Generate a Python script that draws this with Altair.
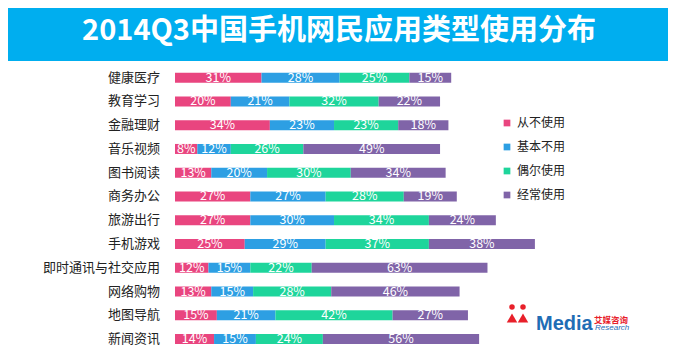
import altair as alt
import pandas as pd

categories = ["健康医疗", "教育学习", "金融理财", "音乐视频", "图书阅读", "商务办公",
              "旅游出行", "手机游戏", "即时通讯与社交应用", "网络购物", "地图导航", "新闻资讯"]
series = ["从不使用", "基本不用", "偶尔使用", "经常使用"]
never = [31, 20, 34, 8, 13, 27, 27, 25, 12, 13, 15, 14]
rarely = [28, 21, 23, 12, 20, 27, 30, 29, 15, 15, 21, 15]
sometimes = [25, 32, 23, 26, 30, 28, 34, 37, 22, 28, 42, 24]
often = [15, 22, 18, 49, 34, 19, 24, 38, 63, 46, 27, 56]
colors = ["#E9457F", "#2D9FE3", "#1ED59B", "#8064A8"]
title_text = "2014Q3中国手机网民应用类型使用分布"

rows = []
for i, c in enumerate(categories):
    for j, (s, vals) in enumerate(zip(series, [never, rarely, sometimes, often])):
        rows.append({"cat": c, "series": s, "order": j, "value": vals[i]})
df = pd.DataFrame(rows)

FONT = "Noto Sans CJK SC"
W, H = 660, 340

xscale = alt.Scale(domain=[0, 140], range=[167, 167 + 2.79 * 140])
yscale = alt.Scale(domain=categories, range=[57.8, 342.9])

base = alt.Chart(df).transform_stack(
    stack="value", groupby=["cat"], as_=["x0", "x1"],
    sort=[alt.SortField("order", order="ascending")]
).transform_calculate(mid="(datum.x0 + datum.x1) / 2")

bars = base.mark_bar(height=10).encode(
    y=alt.Y("cat:N", scale=yscale, axis=None, sort=categories),
    x=alt.X("x0:Q", scale=xscale, axis=None),
    x2="x1:Q",
    color=alt.Color("series:N", scale=alt.Scale(domain=series, range=colors),
                    legend=alt.Legend(orient="none", legendX=493, legendY=109, title=None,
                                      symbolType="square", symbolSize=45, symbolStrokeWidth=0,
                                      labelFontSize=12, labelFont=FONT, labelColor="#222222",
                                      rowPadding=12, labelOffset=4)),
)

pct = base.mark_text(color="white", fontSize=12.5, font=FONT, baseline="middle").encode(
    y=alt.Y("cat:N", scale=yscale, sort=categories),
    x=alt.X("mid:Q", scale=xscale),
    text=alt.Text("label:N"),
).transform_calculate(label="datum.value + '%'")

cat_df = pd.DataFrame({"cat": categories})
cat_labels = alt.Chart(cat_df).mark_text(align="right", baseline="middle", fontSize=13,
                                         font=FONT, color="#222222").encode(
    y=alt.Y("cat:N", scale=yscale, sort=categories),
    x=alt.value(152),
    text="cat:N",
)

title_df = pd.DataFrame({"t": [title_text]})
title_bar = alt.Chart(title_df).mark_rect(color="#00AEEF").encode(
    x=alt.value(-10), x2=alt.value(W + 10), y=alt.value(-10), y2=alt.value(53))
title = alt.Chart(title_df).mark_text(color="white", fontSize=29, fontWeight="bold", font=FONT,
                                      baseline="middle", align="center").encode(
    x=alt.value(331), y=alt.value(23), text="t:N")

logo_df = pd.DataFrame({"media": ["Media"], "cn": ["艾媒咨询"], "en": ["Research"]})
logo_media = alt.Chart(logo_df).mark_text(color="#1F6DB5", fontSize=20, fontWeight="bold",
                                          font="Liberation Sans", align="left", baseline="alphabetic").encode(
    x=alt.value(528), y=alt.value(322), text="media:N")
logo_cn = alt.Chart(logo_df).mark_text(color="#E8202A", fontSize=8.5, fontWeight="bold",
                                       font=FONT, align="left", baseline="alphabetic").encode(
    x=alt.value(586), y=alt.value(315), text="cn:N")
logo_en = alt.Chart(logo_df).mark_text(color="#1F6DB5", fontSize=8, fontStyle="italic",
                                       font="Liberation Sans", align="left", baseline="alphabetic").encode(
    x=alt.value(587), y=alt.value(322), text="en:N")
fig_df = pd.DataFrame({"k": ["a", "b"], "px": [504, 515]})
logo_heads = alt.Chart(fig_df).mark_point(filled=True, shape="circle", size=30, color="#E8202A", opacity=1).encode(
    x=alt.X("px:Q", scale=None), y=alt.value(299))
logo_bodies = alt.Chart(fig_df).mark_point(filled=True, shape="triangle-up", size=110, color="#E8202A", opacity=1).encode(
    x=alt.X("px:Q", scale=None), y=alt.value(310))

chart = alt.layer(title_bar, title, bars, pct, cat_labels, logo_heads, logo_bodies,
                  logo_media, logo_cn, logo_en).resolve_scale(x="independent").properties(
    width=W, height=H, autosize=alt.AutoSizeParams(type="none"), padding=0,
    background="white"
).configure_view(stroke=None)

chart.save("out.html", embed_options={"renderer": "svg", "actions": False})
